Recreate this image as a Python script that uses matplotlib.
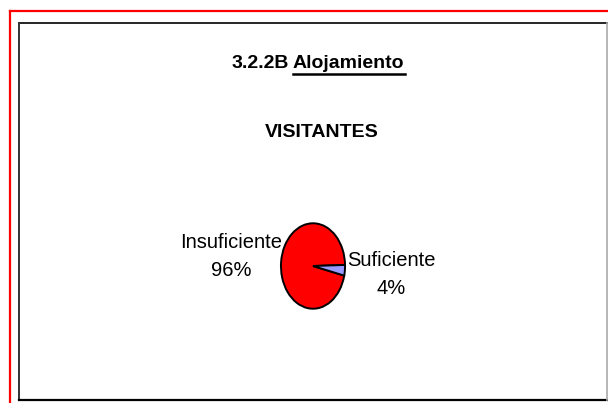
import matplotlib
matplotlib.use('Agg')
import matplotlib.pyplot as plt
from matplotlib.lines import Line2D

plt.rcParams['font.family'] = ['Liberation Sans', 'DejaVu Sans']

# survey answers for visitor lodging
labels = ['Insuficiente', 'Suficiente']
shares = [96, 4]
colors = ['#FF0000', '#9999FF']

W, H = 608, 403
fig = plt.figure(figsize=(W / 100, H / 100), dpi=100)
fig.patch.set_facecolor('white')


def px(x, y):
    return x / W, 1 - y / H


def hline(x0, x1, y, **kw):
    (a, b), (c, d) = px(x0, y), px(x1, y)
    fig.add_artist(Line2D([a, c], [b, d], transform=fig.transFigure, **kw))


def vline(x, y0, y1, **kw):
    (a, b), (c, d) = px(x, y0), px(x, y1)
    fig.add_artist(Line2D([a, c], [b, d], transform=fig.transFigure, **kw))


# outer red frame and inner chart frame
hline(9.5, W, 11, color='#FF0000', lw=1.6)
vline(9.5, 11, H, color='#FF0000', lw=1.6)
hline(18.5, 607, 23, color='black', lw=1.2)
vline(18.5, 23, 400, color='#333333', lw=1.4)
hline(18.5, 607, 400, color='black', lw=1.6)
vline(606.5, 23, 400, color='#AAAAAA', lw=1.2)

# pie drawn as a tall ellipse
l, b = px(280, 310)
r, t = px(346, 222)
ax = fig.add_axes([l, b, r - l, t - b])
ax.pie(shares, colors=colors, startangle=347, counterclock=False,
       wedgeprops=dict(edgecolor='black', linewidth=1.4))
ax.set_aspect('auto')
ax.set_xlim(-1.03, 1.03)
ax.set_ylim(-1.03, 1.03)
ax.axis('off')

# slice labels
x, y = px(231, 256)
fig.text(x, y, f'{labels[0]}\n{shares[0]}%', ha='center', va='center',
         fontsize=14.5, linespacing=1.6)
x, y = px(391, 274)
fig.text(x, y, f'{labels[1]}\n{shares[1]}%', ha='center', va='center',
         fontsize=14.5, linespacing=1.6)

# titles, with the section name underlined
x, y = px(289, 68)
fig.text(x, y, '3.2.2B', ha='right', va='baseline',
         fontsize=14, fontweight='bold')
x, y = px(293, 68)
t2 = fig.text(x, y, 'Alojamiento', ha='left', va='baseline',
              fontsize=14, fontweight='bold')
x, y = px(322, 137)
fig.text(x, y, 'VISITANTES', ha='center', va='baseline',
         fontsize=14, fontweight='bold')

fig.canvas.draw()
bb = t2.get_window_extent()
hline(bb.x0, bb.x1, H - bb.y0 + 2, color='black', lw=1.8)

fig.savefig('out.png', dpi=100)
